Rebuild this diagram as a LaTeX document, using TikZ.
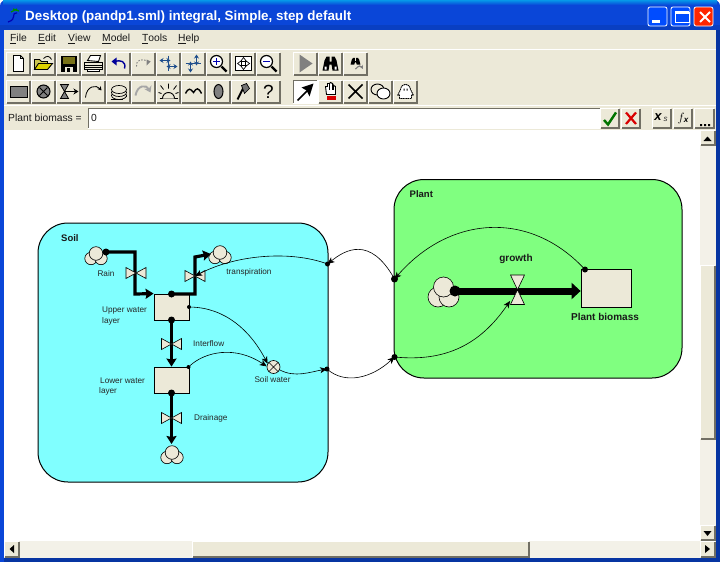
\documentclass[tikz,border=0pt]{standalone}
\usepackage{fontspec}
\setmainfont{Liberation Sans}
\usetikzlibrary{arrows.meta,patterns,calc}
\definecolor{xpgray}{HTML}{ECE9D8}
\definecolor{xpdark}{HTML}{ACA899}
\definecolor{xpdarker}{HTML}{716F64}
\definecolor{xpblue}{HTML}{0A46D8}
\definecolor{soilc}{HTML}{80FFFF}
\definecolor{plantc}{HTML}{80FF80}
\definecolor{track}{HTML}{F3F1E8}
\definecolor{icogray}{HTML}{808080}
\definecolor{icoblue}{HTML}{1F4E8C}
\tikzset{
  stockbox/.style={draw=black,fill=xpgray,line width=0.8pt,inner sep=0pt},
  dotnode/.style={circle,fill=black,inner sep=0pt,minimum size=#1},
  dotnode/.default=5pt,
  flowline/.style={line width=#1,-{Stealth[length=8pt,width=10pt,inset=1pt]}},
  flowline/.default=3.2pt,
  bareflow/.style={line width=3.2pt},
  infl/.style={line width=0.6pt,-{Stealth[length=7pt,width=6pt,inset=2pt]}},
  lab/.style={font=\fontsize{8.2}{9}\selectfont,inner sep=0pt,text=black!85},
  blab/.style={font=\bfseries\fontsize{10}{11}\selectfont,inner sep=0pt,text=black!90},
  uitext/.style={font=\fontsize{10.3}{12}\selectfont,inner sep=0pt,text=black!90},
  valvepart/.style={draw=black,fill=xpgray,line width=0.6pt,line join=miter},
  cloudpart/.style={draw=black,fill=xpgray,line width=0.6pt},
  icl/.style={line width=0.9pt,draw=black}
}
% button: x,y,w,h
\newcommand{\btnup}[4]{%
  \fill[xpgray] (#1,#2) rectangle ++(#3,#4);
  \draw[white,line width=1pt] (#1+0.5,#2+#4-1) -- (#1+0.5,#2+0.5) -- (#1+#3-1,#2+0.5);
  \draw[xpdarker,line width=1.6pt] (#1+#3-0.8,#2+1) -- (#1+#3-0.8,#2+#4-0.8) -- (#1+1,#2+#4-0.8);
}
\newcommand{\hbowtie}[3]{% x,y,name
  \draw[valvepart] (#1-10,#2-5.5) -- (#1+10,#2+5.5) -- (#1+10,#2-5.5) -- (#1-10,#2+5.5) -- cycle;
  \node[inner sep=0pt,minimum size=0pt] (#3) at (#1,#2) {};
}
\newcommand{\cloudicon}[3]{% x,y,name
  \draw[cloudpart] (#1-5,#2+3.5) circle (6.2pt);
  \draw[cloudpart] (#1+5,#2+3.5) circle (6.2pt);
  \draw[cloudpart] (#1,#2-1.5) circle (6.8pt);
  \node[inner sep=0pt] (#3) at (#1,#2) {};
}
\begin{document}
\begin{tikzpicture}[x=1pt,y=-1pt]
\useasboundingbox (0,0) rectangle (720,562);
% ---- window frame
\fill[xpblue] (0,0) rectangle (720,562);
\fill[white] (0,0) rectangle (720,562);
\fill[xpblue] (0,562) -- (0,6) to[out=90,in=180] (6,0) -- (714,0) to[out=0,in=90] (720,6) -- (720,562) -- cycle;
\shade[top color=xpblue,bottom color=xpblue,middle color=xpblue] (0,6) rectangle (720,30);
\fill[top color=xpblue!60!cyan,bottom color=xpblue] (3,0.5) -- (717,0.5) -- (717,5) -- (3,5) -- cycle;
\fill[xpblue!90!black] (0,25) rectangle (720,30);
\fill[xpgray] (4,30) rectangle (716,130);
\fill[white] (4,130) rectangle (700,541);
\fill[xpblue!75!black] (0,558) rectangle (720,562);
\fill[xpblue!75!black] (716,30) rectangle (720,562);
\fill[xpblue] (0,30) rectangle (4,562);
\draw[white,line width=0.8pt] (4,49.5) -- (716,49.5);
\draw[white,line width=0.8pt] (4,105.5) -- (716,105.5);
% ---- title
\node[anchor=west,inner sep=0pt,text=white,font=\bfseries\fontsize{13.4}{15}\selectfont] (title) at (25,17.5) {Desktop (pandp1.sml) integral, Simple, step default};
\draw[line width=1.3pt,green!55!black] (13,9) -- (19,11);
\draw[line width=1.3pt,green!55!black] (11,12) -- (17,9);
\draw[line width=1.2pt,blue!70!black] (17,13) .. controls (10,13) and (18,19) .. (8,22);
% window buttons
\foreach \bx/\bc in {648/blue!70!cyan,671/blue!70!cyan,694/red!70!orange}{
  \fill[\bc,draw=white,line width=0.8pt,rounded corners=2pt] (\bx,7) rectangle ++(19,19);
}
\fill[white] (652,19.5) rectangle (660,23);
\draw[white,line width=0.8pt] (675,12) rectangle (689,22);
\fill[white] (675,11) rectangle (689,14);
\draw[white,line width=2pt] (700,12) -- (710,22) (710,12) -- (700,22);
% ---- menu
\node[uitext,anchor=west] (m1) at (10,39) {\underline{F}ile};
\node[uitext,anchor=west] (m2) at (38,39) {\underline{E}dit};
\node[uitext,anchor=west] (m3) at (68,39) {\underline{V}iew};
\node[uitext,anchor=west] (m4) at (102,39) {\underline{M}odel};
\node[uitext,anchor=west] (m5) at (142,39) {\underline{T}ools};
\node[uitext,anchor=west] (m6) at (178,39) {\underline{H}elp};
% ---- toolbar buttons
\foreach \i in {0,...,10}{ \btnup{6+25*\i}{52}{24.5}{23.5} \btnup{6+25*\i}{80}{24.5}{23.5} }
\foreach \i in {0,1,2}{ \btnup{293+25*\i}{52}{24.5}{23.5} }
\foreach \i in {1,2,3,4}{ \btnup{293+25*\i}{80}{24.5}{23.5} }
% pressed button
\fill[white] (293,80) rectangle (317.5,103.5);
\draw[xpdarker,line width=1.4pt] (293.7,103) -- (293.7,80.7) -- (317,80.7);
% row 1 icons
\begin{scope}[shift={(18.5,63.5)}]\draw[icl,fill=white] (-5,-8) -- (2,-8) -- (5,-5) -- (5,8) -- (-5,8) -- cycle; \draw[icl] (2,-8) -- (2,-5) -- (5,-5);\end{scope}
\begin{scope}[shift={(43.5,63.5)}]\draw[icl,fill=yellow!60!xpdarker] (-9,-4) -- (-4,-4) -- (-2,-2) -- (4,-2) -- (4,6) -- (-9,6) -- cycle; \draw[icl,fill=yellow!70!olive] (-9,6) -- (-5,0) -- (9,0) -- (4,6) -- cycle; \draw[line width=0.8pt] (0,-5) .. controls (3,-8) and (6,-8) .. (8,-4);\end{scope}
\begin{scope}[shift={(68.5,63.5)}]\fill[black] (-8,-8) rectangle (8,8); \fill[olive!80!black] (-6,-7) rectangle (6,0); \fill[xpgray] (-4,3) rectangle (4,8); \fill[black] (-2,4) rectangle (1,8);\end{scope}
\begin{scope}[shift={(93.5,63.5)}]\draw[icl,fill=white] (-6,-3) -- (-3,-8) -- (7,-8) -- (5,-2) -- cycle; \draw[icl,fill=xpgray] (-9,-1) rectangle (9,6); \draw[line width=0.7pt] (-9,2) -- (9,2) (-9,4) -- (9,4); \draw[icl,fill=white] (-6,6) rectangle (6,8);\end{scope}
\begin{scope}[shift={(118.5,63.5)}]\draw[line width=1.4pt,blue!60!black] (6,5) .. controls (8,-2) and (2,-4) .. (-4,-2); \fill[blue!60!black] (-7,-2) -- (-2,-6) -- (-2,2) -- cycle;\end{scope}
\begin{scope}[shift={(143.5,63.5)}]\draw[line width=0.9pt,gray,dash pattern=on 1.5pt off 1.5pt] (-7,3) .. controls (-8,-3) and (-2,-5) .. (3,-3); \fill[gray] (7,-2) -- (3,-4) -- (3,2) -- cycle;\end{scope}
\foreach \cx/\ang in {168.5/0,193.5/90}{
\begin{scope}[shift={(\cx,63.5)},rotate=\ang]
 \draw[line width=1pt,icoblue,{Stealth[length=4pt,width=5pt]}-{Stealth[length=4pt,width=5pt]}] (-9,-3) -- (2,-3);
 \draw[line width=1pt,icoblue,{Stealth[length=4pt,width=5pt]}-{Stealth[length=4pt,width=5pt]}] (-2,3) -- (9,3);
 \draw[line width=0.7pt,icoblue,dashed] (0,-8) -- (0,8);
\end{scope}}
\begin{scope}[shift={(218.5,63.5)}]\draw[line width=1.2pt,fill=white] (-2,-2) circle (6pt); \draw[line width=2.4pt] (3,3) -- (8,8); \draw[line width=1.4pt,blue!70!black] (-5.5,-2) -- (1.5,-2) (-2,-5.5) -- (-2,1.5);\end{scope}
\begin{scope}[shift={(243.5,63.5)}]\draw[line width=1pt,fill=white] (-8,-7) rectangle (8,7); \draw[line width=0.7pt] (-6,0) -- (-2,-3) -- (-2,3) -- cycle (6,0) -- (2,-3) -- (2,3) -- cycle (0,-6) -- (-3,-2) -- (3,-2) -- cycle (0,6) -- (-3,2) -- (3,2) -- cycle;\end{scope}
\begin{scope}[shift={(268.5,63.5)}]\draw[line width=1.2pt,fill=white] (-2,-2) circle (6pt); \draw[line width=2.4pt] (3,3) -- (8,8); \draw[line width=1.4pt,blue!70!black] (-5.5,-2) -- (1.5,-2);\end{scope}
\begin{scope}[shift={(305.5,63.5)}]\fill[gray] (-6,-9) -- (7,0) -- (-6,9) -- cycle;\end{scope}
\begin{scope}[shift={(330.5,63.5)}]\fill[black] (-8,7) -- (-6,-3) -- (-4,-7) -- (-1,-7) -- (-1,-2) -- (1,-2) -- (1,-7) -- (4,-7) -- (6,-3) -- (8,7) -- (2,7) -- (1,1) -- (-1,1) -- (-2,7) -- cycle;\fill[white] (-6,3) rectangle (-4,6) (4,3) rectangle (6,6);\end{scope}
\begin{scope}[shift={(355.5,63.5)},scale=0.62]\fill[black] (-8,2) -- (-6,-6) -- (-4,-9) -- (-1,-9) -- (-1,-4) -- (1,-4) -- (1,-9) -- (4,-9) -- (6,-6) -- (8,2) -- (2,2) -- (1,-2) -- (-1,-2) -- (-2,2) -- cycle;\draw[gray,line width=1.2pt,-{Stealth[length=4pt,width=4pt]}] (0,9) .. controls (5,3) and (9,3) .. (12,9);\end{scope}
% row 2 icons
\begin{scope}[shift={(18.5,91.5)}]\draw[line width=1pt,fill=icogray] (-8.5,-5.5) rectangle (8.5,5.5);\end{scope}
\begin{scope}[shift={(43.5,91.5)}]\draw[line width=1pt,fill=icogray] (0,0) circle (6.5pt); \draw[line width=0.9pt] (-4,-4) -- (4,4) (-4,4) -- (4,-4);\end{scope}
\begin{scope}[shift={(68.5,91.5)}]\fill[icogray,draw=black,line width=0.8pt] (-8,-7) -- (0,-7) -- (-4,0) -- cycle (-8,7) -- (0,7) -- (-4,0) -- cycle; \draw[line width=1.1pt,-{Stealth[length=5pt,width=6pt]}] (-4,0) -- (10,0);\end{scope}
\begin{scope}[shift={(93.5,91.5)}]\draw[line width=0.8pt,-{Stealth[length=4pt,width=4.5pt]}] (-8,6) .. controls (-7,-6) and (3,-7) .. (8,-1);\end{scope}
\begin{scope}[shift={(118.5,91.5)}]\foreach \dy in {4,1,-2}{\draw[line width=0.7pt,fill=xpgray] (0.5,\dy) ellipse (7.5pt and 4pt);}\draw[line width=0.8pt] (-8,7.5) -- (4,7.5) (8,3) -- (8,5);\end{scope}
\begin{scope}[shift={(143.5,91.5)}]\draw[line width=1.9pt,gray!70,-{Stealth[length=6pt,width=8pt]}] (-8,4) .. controls (-6,-7) and (3,-7) .. (7,1);\end{scope}
\begin{scope}[shift={(168.5,91.5)}]\draw[line width=0.9pt] (-9,7) -- (9,7); \draw[line width=0.9pt,fill=xpgray] (-6,7) arc (180:0:6pt); \draw[line width=0.8pt] (0,-3) -- (0,-8) (-5,-2) -- (-8,-6) (5,-2) -- (8,-6) (-7,2) -- (-10,1) (7,2) -- (10,1);\end{scope}
\begin{scope}[shift={(193.5,91.5)}]\draw[line width=1.4pt] (-8,2) .. controls (-5,-4) and (-3,-3) .. (0,1) .. controls (3,-4) and (5,-4) .. (8,2);\end{scope}
\begin{scope}[shift={(218.5,91.5)}]\draw[line width=1pt,fill=icogray] (0,0) ellipse (4.5pt and 7pt);\end{scope}
\begin{scope}[shift={(243.5,91.5)}]\draw[line width=1.8pt] (-6,8) -- (0,-4); \fill[gray!90!black,draw=black,line width=0.7pt] (-2,-6) -- (3,-8) -- (6,-3) -- (1,2) -- cycle;\end{scope}
\node[font=\fontsize{19}{20}\selectfont,inner sep=0pt] (qmark) at (268.5,91.5) {?};
\begin{scope}[shift={(305.5,91.5)}]\draw[line width=1.7pt] (-8,9) -- (2,-1); \fill[black] (8,-8) -- (4,5) -- (1,-1) -- (-4,-4) -- cycle;\end{scope}
\begin{scope}[shift={(330.5,91.5)}]\draw[line width=0.9pt,fill=white] (-4,3) -- (-5,-5) -- (-3,-5) -- (-3,-8) -- (-1,-8) -- (0,-9) -- (2,-8) -- (3,-6) -- (5,-5) -- (5,3) -- cycle; \draw[line width=0.6pt] (-1,-8) -- (-1,-2) (1.5,-8) -- (1.5,-2) (3,-6) -- (3,-2); \fill[red!85!black] (-4,4) rectangle (5,8);\end{scope}
\begin{scope}[shift={(355.5,91.5)}]\draw[line width=1.6pt] (-7,-7) -- (7,7) (7,-7) -- (-7,7);\end{scope}
\begin{scope}[shift={(380.5,91.5)}]\draw[line width=0.9pt,fill=xpgray] (-3,-2) ellipse (6.5pt and 5.5pt); \draw[line width=0.9pt,fill=white] (3,2) ellipse (6.5pt and 5.5pt);\end{scope}
\begin{scope}[shift={(405.5,91.5)}]\draw[line width=0.9pt,dash pattern=on 1.5pt off 0.6pt,fill=white] (-6,7) -- (-6,3) -- (-8,4) -- (-5,-2) .. controls (-4,-9) and (4,-9) .. (5,-2) -- (8,4) -- (6,3) -- (6,7) -- cycle; \fill (-2,-3) rectangle (-1,-1) (1,-3) rectangle (2,-1);\end{scope}
% ---- formula bar
\node[uitext,anchor=west] (flabel) at (8,118) {Plant biomass =};
\fill[white] (88,108.5) rectangle (600,127.5);
\draw[xpdarker,line width=1pt] (88.5,128) -- (88.5,108.5) -- (600,108.5);
\draw[white,line width=1pt] (88,128.5) -- (600,128.5);
\node[uitext,anchor=west] (fvalue) at (91,118) {0};
\btnup{600}{108}{20}{21}
\btnup{621}{108}{20}{21}
\draw[line width=2.4pt,green!45!black] (604,120) -- (608,124.5) -- (616,112.5);
\draw[line width=2.2pt,red!85!black] (626,112.5) -- (636,124) (636,112.5) -- (626,124);
\btnup{652}{108}{20}{21}
\btnup{673}{108}{20}{21}
\btnup{694}{108}{21}{21}
\node[font=\bfseries\itshape\fontsize{13}{14}\selectfont,inner sep=0pt] (xs) at (658,117.5) {x};
\node[font=\itshape\fontsize{8}{9}\selectfont,inner sep=0pt,text=black!80] (xsb) at (665.5,119.5) {s};
\node[font=\bfseries\itshape\fontsize{12}{13}\selectfont,inner sep=0pt] (fx) at (683,118) {$f$\hspace{-1pt}\raisebox{-1pt}{\fontsize{8}{9}\selectfont x}};
\fill (700,124) rectangle ++(2,2) (704,124) rectangle ++(2,2) (708,124) rectangle ++(2,2);
% ---- scroll bars
\fill[track] (700,130) rectangle (716,541);
\fill[track] (4,541) rectangle (716,558);
\btnup{700}{130}{15.5}{15.5}
\fill (703.5,141) -- (711.5,141) -- (707.5,136.5) -- cycle;
\btnup{700}{525}{15.5}{15.5}
\fill (703.5,531) -- (711.5,531) -- (707.5,536) -- cycle;
\btnup{700}{265}{15.5}{174.5}
\btnup{4}{541}{16}{16.5}
\fill (14,545) -- (14,553) -- (9.5,549) -- cycle;
\btnup{700}{541}{15.5}{16.5}
\fill (705,545) -- (705,553) -- (710,549) -- cycle;
\btnup{192}{541}{338}{16.5}
% ---- sectors
\draw[fill=soilc,line width=1pt,rounded corners=30pt] (38,223) rectangle (328,482);
\draw[fill=plantc,line width=1pt,rounded corners=30pt] (394,179.5) rectangle (682,378);
\node[blab,anchor=west,font=\bfseries\fontsize{9.5}{11}\selectfont] (soillab) at (61,238) {Soil};
\node[blab,anchor=west,font=\bfseries\fontsize{9.5}{11}\selectfont] (plantlab) at (409.5,194) {Plant};
% ---- stocks
\node[stockbox,minimum width=35pt,minimum height=26pt] (upper) at (171.5,307) {};
\node[stockbox,minimum width=35pt,minimum height=26pt] (lower) at (171.5,380) {};
\node[stockbox,minimum width=50pt,minimum height=38pt] (biomass) at (606,288) {};
% ---- sources and sinks
\cloudicon{96}{255}{rainsrc}
\cloudicon{220}{254}{transsink}
\cloudicon{172}{454}{drainsink}
\begin{scope}
\draw[cloudpart] (438,297) circle (10pt);
\draw[cloudpart] (449,297) circle (10pt);
\draw[cloudpart] (443.5,287) circle (10pt);
\node[inner sep=0pt] (growthsrc) at (443,292) {};
\end{scope}
% ---- flow dots (start points)
\node[dotnode=7pt] (d1) at (106,252) {};
\node[dotnode=7pt] (d2) at (171.5,294) {};
\node[dotnode=7pt] (d3) at (171.5,320) {};
\node[dotnode=7pt] (d4) at (171.5,393) {};
\node[dotnode=11pt] (d5) at (455,291) {};
% ---- flows
\draw[flowline] (d1.center) -| (135,294) -- (upper.north west);
\draw[flowline] (d2.center) -| (195,257) -- (transsink.center -| 211,0);
\draw[flowline] (d3.center) -- (lower.north);
\draw[flowline] (d4.center) -- (171.5,444);
\draw[line width=7pt,-{Stealth[length=9pt,width=16pt,inset=0pt]}] (d5.center) -- (biomass.west |- d5);
% ---- valves
\hbowtie{136}{273}{vrain}
\hbowtie{195}{276}{vtrans}
\hbowtie{171.5}{344}{vinter}
\hbowtie{171.5}{418}{vdrain}
\draw[valvepart] (510.5,275) -- (524.5,275) -- (510.5,304.5) -- (524.5,304.5) -- cycle;
\node[inner sep=0pt] (vgrowth) at (517.5,290) {};
% ---- variable
\node[circle,draw=black,fill=xpgray,line width=0.6pt,minimum size=13pt,inner sep=0pt] (soilw) at (273.5,367) {};
\draw[line width=0.6pt] (soilw.45) -- (soilw.225) (soilw.135) -- (soilw.315);
% ---- ports
\node[dotnode=4pt] (p1) at (189,307) {};
\node[dotnode=4pt] (p2) at (188.5,367) {};
\node[dotnode=5pt] (p3) at (327,369) {};
\node[dotnode=5pt] (p4) at (327.5,264) {};
\node[dotnode=7pt] (p5) at (394.5,279) {};
\node[dotnode=6pt] (p6) at (394.5,357) {};
\node[dotnode=6pt] (p7) at (585,269.5) {};
% ---- influences
\draw[infl] (p1) .. controls (225,308) and (250,330) .. (soilw.150);
\draw[infl] (p2) .. controls (205,352) and (235,345) .. (soilw.175);
\draw[infl] (soilw.-25) .. controls (295,378) and (310,372) .. (p3.center);
\draw[infl] (p3.center) .. controls (345,385) and (372,378) .. (p6.center);
\draw[infl] (p4.center) .. controls (290,250) and (235,255) .. (vtrans.east);
\draw[infl] (p5.center) .. controls (370,235) and (345,250) .. (p4.center);
\draw[infl] (p7.center) .. controls (530,210) and (450,215) .. (p5.center);
\draw[infl] (p6.center) .. controls (445,362) and (480,345) .. (510,301);
% ---- labels
\node[lab] (lrain) at (106,274) {Rain};
\node[lab] (ltrans) at (249,272) {transpiration};
\node[lab,anchor=west,align=left] (lupper) at (102,311) {Upper water};
\node[lab,anchor=west] (lupper2) at (102,321) {layer};
\node[lab,anchor=west] (linter) at (193,344) {Interflow};
\node[lab,anchor=west] (llower) at (100,381) {Lower water};
\node[lab,anchor=west] (llower2) at (99,391) {layer};
\node[lab,anchor=west] (ldrain) at (194,418) {Drainage};
\node[lab] (lsoilw) at (272.5,380) {Soil water};
\node[blab] (lgrowth) at (516,259) {growth};
\node[blab] (lbio) at (605,317) {Plant biomass};
\end{tikzpicture}
\end{document}
